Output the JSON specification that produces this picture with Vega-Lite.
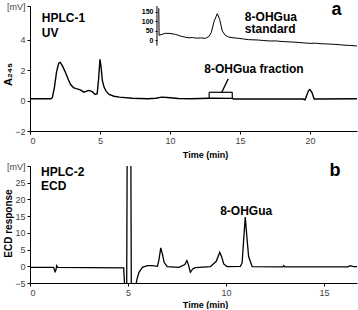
{
  "$schema": "https://vega.github.io/schema/vega-lite/v6.json",
  "padding": {"left": 2, "top": 0, "right": 0, "bottom": 0},
  "spacing": 3,
  "config": {
    "view": {"stroke": null},
    "axis": {"domainColor": "black", "domainWidth": 1, "tickColor": "black", "tickSize": 3, "labelFont": "Liberation Sans", "labelFontSize": 9, "labelColor": "#444", "grid": false, "titleFont": "Liberation Sans", "titleFontWeight": "bold", "titleFontSize": 10, "titleColor": "black", "labelPadding": 2}
  },
  "datasets": {
    "uv": [
      {"t": 0, "v": 0.12}, {"t": 1.5, "v": 0.12}, {"t": 1.6, "v": 0.2}, {"t": 1.75, "v": 0.9}, {"t": 1.9, "v": 1.9}, {"t": 2.05, "v": 2.45}, {"t": 2.15, "v": 2.5}, {"t": 2.3, "v": 2.3}, {"t": 2.55, "v": 1.8}, {"t": 2.75, "v": 1.35}, {"t": 2.9, "v": 1.05}, {"t": 3.1, "v": 0.85}, {"t": 3.3, "v": 0.78}, {"t": 3.6, "v": 0.7}, {"t": 3.85, "v": 0.55}, {"t": 4.05, "v": 0.62}, {"t": 4.2, "v": 0.66}, {"t": 4.45, "v": 0.58}, {"t": 4.65, "v": 0.4}, {"t": 4.8, "v": 0.45}, {"t": 4.9, "v": 1.4}, {"t": 5.0, "v": 2.7}, {"t": 5.08, "v": 2.2}, {"t": 5.17, "v": 1.3}, {"t": 5.3, "v": 0.85}, {"t": 5.45, "v": 0.6}, {"t": 5.65, "v": 0.4}, {"t": 6.0, "v": 0.28}, {"t": 6.4, "v": 0.22}, {"t": 7.3, "v": 0.15}, {"t": 8.4, "v": 0.12}, {"t": 9.0, "v": 0.15}, {"t": 9.4, "v": 0.22}, {"t": 9.8, "v": 0.2}, {"t": 10.6, "v": 0.13}, {"t": 11.5, "v": 0.12}, {"t": 12.8, "v": 0.15}, {"t": 14.45, "v": 0.14}, {"t": 14.55, "v": 0.1}, {"t": 17, "v": 0.1}, {"t": 19.5, "v": 0.1}, {"t": 19.65, "v": 0.05}, {"t": 19.75, "v": 0.3}, {"t": 19.9, "v": 0.65}, {"t": 20.0, "v": 0.72}, {"t": 20.15, "v": 0.5}, {"t": 20.3, "v": 0.1}, {"t": 20.5, "v": 0.1}, {"t": 23.36, "v": 0.12}
    ],
    "inset": [
      {"t": 9.2, "u": 170}, {"t": 9.22, "u": 25}, {"t": 9.5, "u": 32}, {"t": 9.7, "u": 36}, {"t": 10.0, "u": 35}, {"t": 10.4, "u": 30}, {"t": 10.8, "u": 20}, {"t": 11.1, "u": 15}, {"t": 11.36, "u": 12}, {"t": 11.6, "u": 13}, {"t": 11.9, "u": 10}, {"t": 12.2, "u": 11}, {"t": 12.55, "u": 9}, {"t": 12.8, "u": 20}, {"t": 12.95, "u": 40}, {"t": 13.15, "u": 100}, {"t": 13.38, "u": 141}, {"t": 13.55, "u": 110}, {"t": 13.74, "u": 48}, {"t": 13.95, "u": 25}, {"t": 14.2, "u": 16}, {"t": 14.5, "u": 12}, {"t": 14.9, "u": 9}, {"t": 15.2, "u": 6}, {"t": 15.6, "u": 2}, {"t": 16.3, "u": 0}, {"t": 16.7, "u": -3}, {"t": 17.1, "u": -5}, {"t": 17.6, "u": -5}, {"t": 18.0, "u": -8}, {"t": 18.5, "u": -10}, {"t": 19.0, "u": -12}, {"t": 19.3, "u": -14}, {"t": 20, "u": -18}, {"t": 20.4, "u": -17}, {"t": 20.8, "u": -20}, {"t": 21.2, "u": -21}, {"t": 21.7, "u": -23}, {"t": 22.1, "u": -25}, {"t": 22.5, "u": -28}, {"t": 22.9, "u": -29}, {"t": 23.36, "u": -32}
    ],
    "ecd": [
      {"t": 0, "v": -0.3}, {"t": 1.2, "v": -0.3}, {"t": 1.28, "v": -1.6}, {"t": 1.32, "v": -1.2}, {"t": 1.36, "v": 0.2}, {"t": 1.42, "v": -0.3}, {"t": 3, "v": -0.4}, {"t": 4.78, "v": -0.5}, {"t": 4.86, "v": -10}, {"t": 4.93, "v": -10}, {"t": 4.96, "v": 40}, {"t": 5.14, "v": 40}, {"t": 5.17, "v": -10}, {"t": 5.3, "v": -10}, {"t": 5.45, "v": -4}, {"t": 5.56, "v": -1.8}, {"t": 5.73, "v": -0.3}, {"t": 5.98, "v": 0.2}, {"t": 6.24, "v": 0.2}, {"t": 6.5, "v": 0.0}, {"t": 6.58, "v": 2}, {"t": 6.67, "v": 5.5}, {"t": 6.76, "v": 3.5}, {"t": 6.84, "v": 1.2}, {"t": 7.0, "v": -0.1}, {"t": 7.6, "v": -0.3}, {"t": 7.9, "v": 0.5}, {"t": 8.0, "v": 1.7}, {"t": 8.08, "v": 0.5}, {"t": 8.18, "v": -1.8}, {"t": 8.3, "v": -0.8}, {"t": 8.43, "v": -0.4}, {"t": 9.2, "v": -0.1}, {"t": 9.5, "v": 1.5}, {"t": 9.68, "v": 4.2}, {"t": 9.78, "v": 2.8}, {"t": 9.88, "v": 0.7}, {"t": 10.05, "v": -0.1}, {"t": 10.73, "v": 0}, {"t": 10.82, "v": 1}, {"t": 10.9, "v": 8}, {"t": 10.98, "v": 14.7}, {"t": 11.06, "v": 9}, {"t": 11.15, "v": 3}, {"t": 11.33, "v": -0.1}, {"t": 12.9, "v": -0.2}, {"t": 12.94, "v": 0.2}, {"t": 13.0, "v": -0.2}, {"t": 14.66, "v": -0.2}, {"t": 16.2, "v": -0.2}, {"t": 16.34, "v": 0.2}, {"t": 16.5, "v": -0.1}, {"t": 16.68, "v": -0.1}
    ],
    "bracket": [
      {"t": 12.8, "v": 0.17, "t2": 12.8, "v2": 0.54},
      {"t": 12.8, "v": 0.54, "t2": 14.45, "v2": 0.54},
      {"t": 14.45, "v": 0.54, "t2": 14.45, "v2": 0.17}
    ],
    "pointer": [
      {"t": 13.7, "v": 0.54},
      {"t": 14.16, "v": 1.42}
    ],
    "labelsA": [
      {"t": 0.84, "v": 5.44, "label": "HPLC-1"},
      {"t": 0.84, "v": 4.42, "label": "UV"},
      {"t": 15.35, "v": 5.5, "label": "8-OHGua"},
      {"t": 15.35, "v": 4.66, "label": "standard"},
      {"t": 12.45, "v": 2.1, "label": "8-OHGua fraction"}
    ],
    "labelsB": [
      {"t": 0.56, "v": 28.2, "label": "HPLC-2"},
      {"t": 0.56, "v": 24.0, "label": "ECD"},
      {"t": 9.7, "v": 16.6, "label": "8-OHGua"}
    ]
  },
  "vconcat": [
    {
      "width": 327,
      "height": 125,
      "encoding": {
        "x": {"field": "t", "type": "quantitative", "scale": {"domain": [0, 23.36], "nice": false}, "axis": {"values": [0, 5, 10, 15, 20], "title": "Time (min)", "titleX": 175, "titlePadding": 5, "titleFontSize": 9}}
      },
      "layer": [
        {
          "encoding": {
            "y": {"field": "v", "type": "quantitative", "scale": {"domain": [-2, 6.2], "nice": false}, "axis": {"values": [-2, 0, 2, 4, 6.2], "labelExpr": "datum.value > 6 ? '[mV]' : datum.label", "title": "A₂₄₅", "titleX": -22, "titleY": 68, "titleBaseline": "middle", "titleFontSize": 11}}
          },
          "layer": [
            {"data": {"name": "uv"}, "mark": {"type": "line", "color": "black", "strokeWidth": 1.4}},
            {"data": {"name": "bracket"}, "mark": {"type": "rule", "color": "black", "strokeWidth": 1.2}, "encoding": {"x2": {"field": "t2"}, "y2": {"field": "v2"}}},
            {"data": {"name": "pointer"}, "mark": {"type": "line", "color": "black", "strokeWidth": 1.3}},
            {"data": {"name": "labelsA"}, "mark": {"type": "text", "align": "left", "baseline": "middle", "font": "Liberation Sans", "fontWeight": "bold", "fontSize": 12, "color": "black"}, "encoding": {"text": {"field": "label"}}},
            {"data": {"values": [{"t": 21.9, "v": 5.95, "label": "a"}]}, "mark": {"type": "text", "align": "center", "baseline": "middle", "font": "Liberation Sans", "fontWeight": "bold", "fontSize": 18, "color": "black"}, "encoding": {"text": {"field": "label"}}}
          ]
        },
        {
          "encoding": {
            "y": {"field": "u", "type": "quantitative", "scale": {"domain": [-487, 182], "nice": false}, "axis": {"orient": "left", "offset": -127, "values": [0, 50, 100, 150], "domain": false, "title": null, "labelFontSize": 7, "labelFontWeight": "bold", "labelColor": "black", "tickSize": 2}}
          },
          "layer": [
            {"data": {"name": "inset"}, "mark": {"type": "line", "color": "black", "strokeWidth": 1}},
            {"data": {"values": [{"t": 9.07, "u": -30, "u2": 182}]}, "mark": {"type": "rule", "color": "black", "strokeWidth": 1}, "encoding": {"y2": {"field": "u2"}}}
          ]
        }
      ],
      "resolve": {"scale": {"y": "independent"}}
    },
    {
      "width": 327,
      "height": 117,
      "encoding": {
        "x": {"field": "t", "type": "quantitative", "scale": {"domain": [0, 16.68], "nice": false}, "axis": {"values": [0, 5, 10, 15], "title": "Time (min)", "titleX": 175, "titlePadding": 3, "titleFontSize": 9}},
        "y": {"field": "v", "type": "quantitative", "scale": {"domain": [-5, 30], "nice": false}, "axis": {"values": [-5, 0, 5, 10, 15, 20, 25, 30], "labelExpr": "datum.value > 29 ? '[mV]' : datum.label", "title": "ECD response", "titleX": -22, "titleY": 57, "titleBaseline": "middle", "titleFontSize": 10}}
      },
      "layer": [
        {"data": {"name": "ecd"}, "mark": {"type": "line", "color": "black", "strokeWidth": 1.3, "clip": true}},
        {"data": {"name": "labelsB"}, "mark": {"type": "text", "align": "left", "baseline": "middle", "font": "Liberation Sans", "fontWeight": "bold", "fontSize": 12, "color": "black"}, "encoding": {"text": {"field": "label"}}},
        {"data": {"values": [{"t": 15.56, "v": 28.5, "label": "b"}]}, "mark": {"type": "text", "align": "center", "baseline": "middle", "font": "Liberation Sans", "fontWeight": "bold", "fontSize": 18, "color": "black"}, "encoding": {"text": {"field": "label"}}}
      ]
    }
  ]
}
